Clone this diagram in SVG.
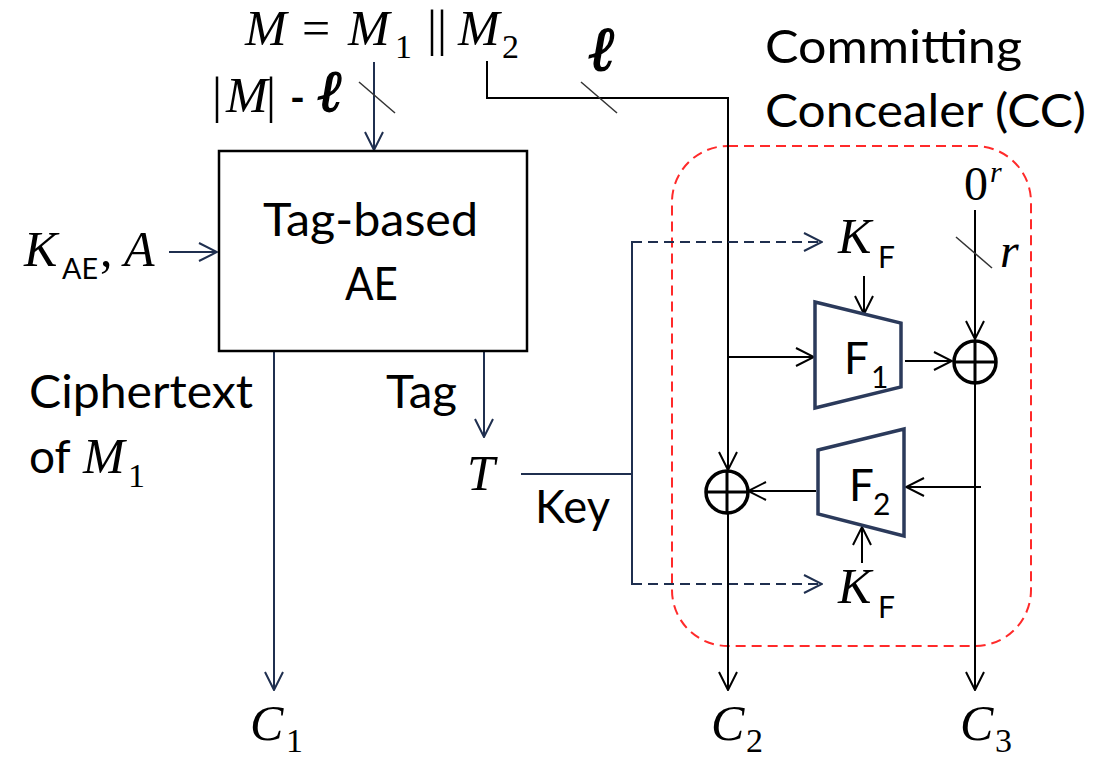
<svg xmlns="http://www.w3.org/2000/svg" width="1094" height="758" viewBox="0 0 1094 758">
  <style>
    .sans { font-family: Lato, "Open Sans", "Liberation Sans", sans-serif; fill: #000; }
    .math { font-family: "Liberation Serif", "DejaVu Serif", serif; font-style: italic; fill: #000; }
    .up { font-family: "Liberation Serif", "DejaVu Serif", serif; font-style: normal; fill: #000; }
    .ell { font-family: "DejaVu Serif", "Liberation Serif", serif; font-style: italic; font-weight: bold; fill: #000; stroke: #000; stroke-width: 1.5; }
    .ln { fill: none; stroke: #000; stroke-width: 2; }
    .nv { fill: none; stroke: #1f2f4f; stroke-width: 2; }
    .dash { fill: none; stroke: #1f2f4f; stroke-width: 2; stroke-dasharray: 10 6; }
    .tick { fill: none; stroke: #333; stroke-width: 1.5; }
    .xor { fill: #fff; stroke: #000; stroke-width: 3.5; }
    .prf { fill: #fff; stroke: #2b3a5b; stroke-width: 3.5; stroke-linejoin: miter; }
  </style>
  <defs>
    <marker id="ah" viewBox="0 0 20 20" refX="19" refY="10" markerWidth="20" markerHeight="20" markerUnits="userSpaceOnUse" orient="auto">
      <path d="M1,1 L19,10 L1,19" fill="none" stroke="#000" stroke-width="2"/>
    </marker>
    <marker id="ahn" viewBox="0 0 20 20" refX="19" refY="10" markerWidth="20" markerHeight="20" markerUnits="userSpaceOnUse" orient="auto">
      <path d="M1,1 L19,10 L1,19" fill="none" stroke="#1f2f4f" stroke-width="2"/>
    </marker>
  </defs>

  <!-- committing concealer boundary -->
  <rect id="cc-boundary" x="672" y="146" width="359" height="500" rx="56" ry="56" fill="none" stroke="#ff2a2a" stroke-width="2" stroke-dasharray="10 6"/>

  <!-- connectors -->
  <g id="connectors">
    <!-- M1 part into the AE box -->
    <line class="nv" x1="374" y1="62" x2="374" y2="150" marker-end="url(#ahn)"/>
    <line class="tick" x1="359" y1="82" x2="395" y2="113"/>
    <!-- M2 routed to the CC -->
    <polyline class="ln" points="487,61 487,98 728,98 728,470" marker-end="url(#ah)"/>
    <line class="tick" x1="581" y1="82" x2="617" y2="113"/>
    <!-- key/header into AE -->
    <line class="nv" x1="169" y1="252" x2="217" y2="252" marker-end="url(#ahn)"/>
    <!-- ciphertext of M1 -->
    <line class="nv" x1="274" y1="349" x2="274" y2="690" marker-end="url(#ahn)"/>
    <!-- tag -->
    <line class="nv" x1="484" y1="351" x2="484" y2="437" marker-end="url(#ahn)"/>
    <!-- T used as key -->
    <line class="nv" x1="521" y1="474" x2="633" y2="474"/>
    <line class="nv" x1="632" y1="241" x2="632" y2="585"/>
    <line class="dash" x1="632" y1="242" x2="822" y2="242" marker-end="url(#ahn)"/>
    <line class="dash" x1="632" y1="584" x2="822" y2="584" marker-end="url(#ahn)"/>
    <!-- K_F into F1 / F2 -->
    <line class="ln" x1="864" y1="276" x2="864" y2="314" marker-end="url(#ah)"/>
    <line class="ln" x1="862" y1="563" x2="862" y2="527" marker-end="url(#ah)"/>
    <!-- M2 branch into F1 -->
    <line class="ln" x1="727" y1="357" x2="814" y2="357" marker-end="url(#ah)"/>
    <!-- F1 output into xor -->
    <line class="ln" x1="905" y1="361" x2="952" y2="361" marker-end="url(#ah)"/>
    <!-- 0^r into xor -->
    <line class="ln" x1="975" y1="210" x2="975" y2="339" marker-end="url(#ah)"/>
    <line class="tick" x1="956" y1="237" x2="992" y2="268"/>
    <!-- xor output down to C3 -->
    <line class="ln" x1="975" y1="383" x2="975" y2="690" marker-end="url(#ah)"/>
    <!-- C3 branch into F2 -->
    <line class="ln" x1="981" y1="487" x2="906" y2="487" marker-end="url(#ah)"/>
    <!-- F2 output into xor -->
    <line class="ln" x1="816" y1="491" x2="748" y2="491" marker-end="url(#ah)"/>
    <!-- xor output down to C2 -->
    <line class="ln" x1="728" y1="513" x2="728" y2="690" marker-end="url(#ah)"/>
  </g>

  <!-- tag-based AE block -->
  <g id="ae-box">
    <rect x="219" y="151" width="308" height="200" fill="#fff" stroke="#000" stroke-width="2.5"/>
    <text class="sans" x="263" y="236" font-size="46" textLength="215" lengthAdjust="spacingAndGlyphs">Tag-based</text>
    <text class="sans" x="345" y="300" font-size="46" textLength="53" lengthAdjust="spacingAndGlyphs">AE</text>
  </g>

  <!-- F1 -->
  <g id="f1">
    <polygon class="prf" points="815,302 901,323 901,387 815,408"/>
    <text class="sans" x="844" y="374" font-size="44">F</text>
    <text class="sans" x="871" y="388" font-size="30">1</text>
  </g>

  <!-- F2 -->
  <g id="f2">
    <polygon class="prf" points="818,450 904,429 904,536 818,514"/>
    <text class="sans" x="849" y="501" font-size="44">F</text>
    <text class="sans" x="873" y="515" font-size="30">2</text>
  </g>

  <!-- xor gates -->
  <g id="xor1">
    <circle class="xor" cx="975" cy="362" r="21"/>
    <path d="M954,362 H996 M975,341 V383" stroke="#000" stroke-width="3"/>
  </g>
  <g id="xor2">
    <circle class="xor" cx="727" cy="492" r="21"/>
    <path d="M706,492 H748 M727,471 V513" stroke="#000" stroke-width="3"/>
  </g>

  <!-- input message -->
  <g id="msg">
    <text class="math" x="245" y="45" font-size="50">M</text>
    <text class="up" x="302" y="45" font-size="50">=</text>
    <text class="math" x="348" y="45" font-size="50">M</text>
    <text class="up" x="395" y="58" font-size="34">1</text>
    <text class="up" x="427" y="45" font-size="50">||</text>
    <text class="math" x="458" y="45" font-size="50">M</text>
    <text class="up" x="502" y="58" font-size="34">2</text>
  </g>
  <g id="len-m1">
    <text class="up" x="212" y="112" font-size="50">|</text>
    <text class="math" x="226" y="112" font-size="50">M</text>
    <text class="up" x="266" y="112" font-size="50">|</text>
    <text class="sans" x="290" y="112" font-size="40" font-weight="bold">-</text>
    <text class="ell" x="318" y="111" font-size="58">ℓ</text>
  </g>
  <g id="len-m2">
    <text class="ell" x="589" y="70" font-size="62">ℓ</text>
  </g>

  <!-- CC title -->
  <g id="cc-title">
    <text class="sans" x="765" y="63" font-size="46" textLength="257" lengthAdjust="spacingAndGlyphs">Committing</text>
    <text class="sans" x="765" y="127" font-size="46" textLength="321" lengthAdjust="spacingAndGlyphs">Concealer (CC)</text>
  </g>

  <!-- AE key and header -->
  <g id="kae">
    <text class="math" x="24" y="266" font-size="50">K</text>
    <text class="sans" x="62" y="279" font-size="28" textLength="36" lengthAdjust="spacingAndGlyphs">AE</text>
    <text class="up" x="100" y="266" font-size="50">,</text>
    <text class="math" x="124" y="266" font-size="50">A</text>
  </g>

  <!-- labels -->
  <g id="ct-label">
    <text class="sans" x="29" y="408" font-size="46" textLength="224" lengthAdjust="spacingAndGlyphs">Ciphertext</text>
    <text class="sans" x="29" y="473" font-size="46">of</text>
    <text class="math" x="83" y="473" font-size="50">M</text>
    <text class="up" x="128" y="487" font-size="34">1</text>
  </g>
  <g id="tag-label">
    <text class="sans" x="386" y="408" font-size="46" textLength="71" lengthAdjust="spacingAndGlyphs">Tag</text>
  </g>
  <g id="t">
    <text class="math" x="467" y="490" font-size="50">T</text>
  </g>
  <g id="key-label">
    <text class="sans" x="535" y="523" font-size="46" textLength="75" lengthAdjust="spacingAndGlyphs">Key</text>
  </g>
  <g id="kf-top">
    <text class="math" x="838" y="253" font-size="50">K</text>
    <text class="sans" x="878" y="268" font-size="30">F</text>
  </g>
  <g id="kf-bottom">
    <text class="math" x="838" y="603" font-size="50">K</text>
    <text class="sans" x="878" y="618" font-size="30">F</text>
  </g>
  <g id="zero-r">
    <text class="up" x="964" y="200" font-size="48">0</text>
    <text class="math" x="990" y="182" font-size="30">r</text>
  </g>
  <g id="r-label">
    <text class="math" x="1000" y="267" font-size="48">r</text>
  </g>

  <!-- outputs -->
  <g id="c1">
    <text class="math" x="250" y="740" font-size="50">C</text>
    <text class="up" x="286" y="752" font-size="34">1</text>
  </g>
  <g id="c2">
    <text class="math" x="711" y="740" font-size="50">C</text>
    <text class="up" x="746" y="752" font-size="34">2</text>
  </g>
  <g id="c3">
    <text class="math" x="960" y="740" font-size="50">C</text>
    <text class="up" x="995" y="752" font-size="34">3</text>
  </g>
</svg>
